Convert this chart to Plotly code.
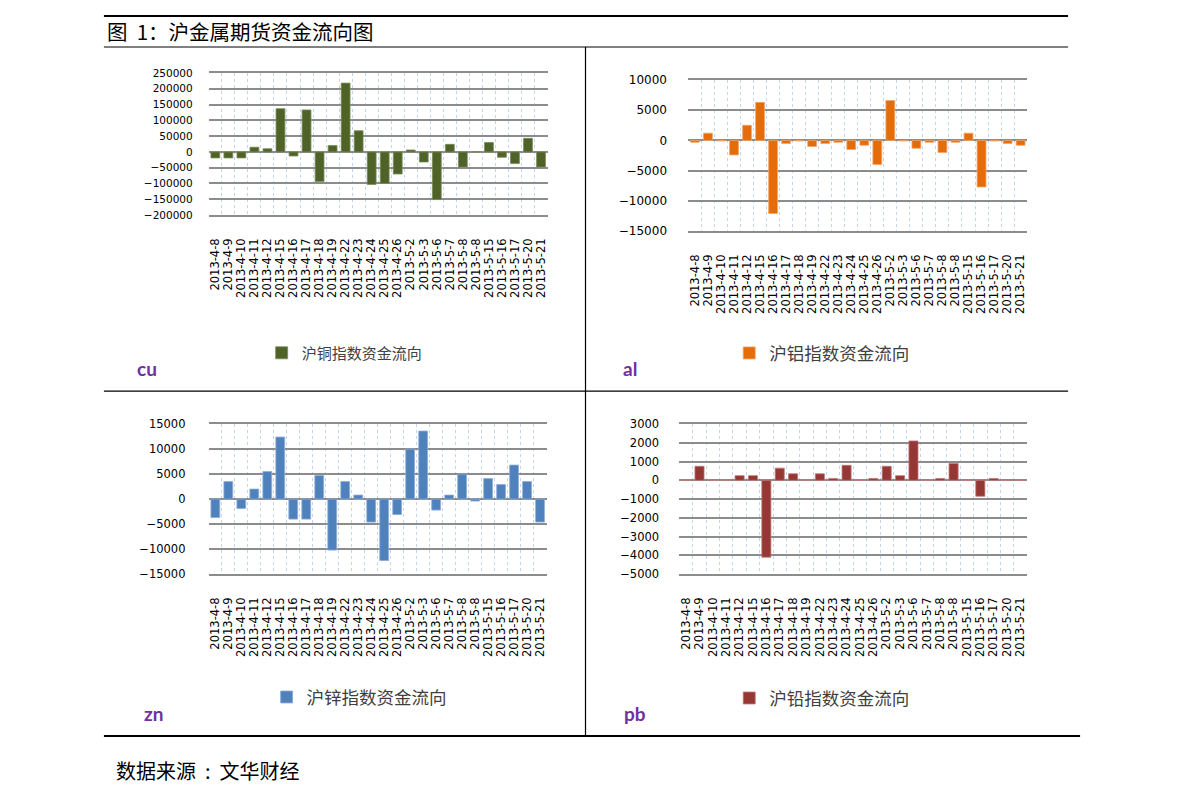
import plotly.graph_objects as go

# =========================================================================
# Data
# =========================================================================
dates = [
    "2013-4-8", "2013-4-9", "2013-4-10", "2013-4-11", "2013-4-12",
    "2013-4-15", "2013-4-16", "2013-4-17", "2013-4-18", "2013-4-19",
    "2013-4-22", "2013-4-23", "2013-4-24", "2013-4-25", "2013-4-26",
    "2013-5-2", "2013-5-3", "2013-5-6", "2013-5-7", "2013-5-8",
    "2013-5-8", "2013-5-15", "2013-5-16", "2013-5-17", "2013-5-20",
    "2013-5-21",
]

cu_flow = [
    -19000, -19000, -19000, 15000, 10000, 137000, -13000, 133000, -94000,
    20000, 218000, 67000, -103000, -100000, -70000, 6000, -32000, -151000,
    24000, -48000, 0, 30000, -17000, -37000, 43000, -48000,
]
al_flow = [
    -300, 1200, -100, -2400, 2500, 6300, -12100, -500, -100, -1000, -500,
    -300, -1500, -800, -4000, 6600, -100, -1300, -300, -2000, -300, 1200,
    -7700, -100, -500, -800,
]
zn_flow = [
    -3700, 3500, -1900, 2000, 5500, 12400, -4000, -4000, 4700, -10200, 3500,
    800, -4600, -12300, -3100, 10000, 13600, -2200, 800, 5000, -400, 4100,
    2900, 6800, 3500, -4600,
]
pb_flow = [
    0, 750, 0, 0, 250, 250, -4100, 650, 350, 0, 350, 100, 800, 0, 100, 750,
    250, 2100, 0, 100, 900, 0, -850, 100, 0, 0,
]

panel_names = ["cu", "al", "zn", "pb"]
legend_names = ["沪铜指数资金流向", "沪铝指数资金流向", "沪锌指数资金流向", "沪铅指数资金流向"]

# =========================================================================
# Page geometry (target pixels on the 1191 x 801 screenshot)
# =========================================================================
PAGE_MARGIN = 8
W, H = 1191 - 2 * PAGE_MARGIN, 801 - 2 * PAGE_MARGIN
Y_OFF, Y_SCALE = 15, 0.982  # how figure rows land on the screenshot


def fx(px):
    return (px - PAGE_MARGIN) / W


def fy(py):
    row = max((py - Y_OFF) / Y_SCALE, 1)
    return 1 - row / H


panels = [
    dict(values=cu_flow, color="#4F6228", edge="#7A8C55",
         xpx=(208, 547), ypx=(73, 215), rng=(-200000, 250000), dtick=50000,
         ysize=10.5, ylen=13, legend=(427, 353), lsize=15, label=(134, 368)),
    dict(values=al_flow, color="#E46C0A", edge="#F3A566",
         xpx=(688, 1027), ypx=(80, 231), rng=(-15000, 10000), dtick=5000,
         ysize=12, ylen=18, legend=(914, 353), lsize=17.5, label=(621, 368)),
    dict(values=zn_flow, color="#4F81BD", edge="#8EADD6",
         xpx=(208, 546), ypx=(424, 574), rng=(-15000, 15000), dtick=5000,
         ysize=11.5, ylen=20, legend=(451, 697), lsize=17.5, label=(141, 713)),
    dict(values=pb_flow, color="#953735", edge="#C07A78",
         xpx=(679, 1027), ypx=(424, 574), rng=(-5000, 3000), dtick=1000,
         ysize=11.5, ylen=17, legend=(914, 698), lsize=17.5, label=(622, 713)),
]

tick_font = "DejaVu Sans"
cjk_font = "Noto Sans CJK SC"
x_idx = list(range(len(dates)))

fig = go.Figure()
layout = {}
annotations = []

for i, (p, name, lname) in enumerate(zip(panels, panel_names, legend_names)):
    n = "" if i == 0 else str(i + 1)
    legend_key = "legend" + n

    fig.add_trace(
        go.Bar(
            x=x_idx,
            y=p["values"],
            name=lname,
            marker=dict(color=p["color"], line=dict(color=p["edge"], width=0.8)),
            xaxis="x" + n,
            yaxis="y" + n,
            legend=legend_key,
            hovertext=dates,
        )
    )

    layout["xaxis" + n] = dict(
        domain=[fx(p["xpx"][0]), fx(p["xpx"][1])],
        anchor="y" + n,
        range=[-0.5, len(dates) - 0.5],
        tickmode="array",
        tickvals=x_idx,
        ticktext=dates,
        tickangle=-90,
        tickfont=dict(family=tick_font, size=11.5, color="#000000"),
        ticks="outside",
        ticklen=17,
        tickcolor="rgba(0,0,0,0)",
        showgrid=False,
        zeroline=False,
        showline=True,
        mirror=True,
        linecolor="#8C8C8C",
        linewidth=1.5,
        minor=dict(
            tickmode="linear",
            tick0=-0.5,
            dtick=1,
            showgrid=True,
            gridcolor="#C3D4EE",
            griddash="dot",
            gridwidth=1,
            ticks="",
        ),
        fixedrange=True,
    )
    layout["yaxis" + n] = dict(
        domain=[fy(p["ypx"][1]), fy(p["ypx"][0])],
        anchor="x" + n,
        range=list(p["rng"]),
        tickmode="linear",
        tick0=p["rng"][0],
        dtick=p["dtick"],
        tickformat="d",
        tickfont=dict(family=tick_font, size=p["ysize"], color="#000000"),
        ticks="outside",
        ticklen=p["ylen"],
        tickcolor="rgba(0,0,0,0)",
        showgrid=True,
        gridcolor="#8C8C8C",
        gridwidth=1.5,
        zeroline=False,
        showline=False,
        fixedrange=True,
    )
    layout[legend_key] = dict(
        x=fx(p["legend"][0]),
        y=fy(p["legend"][1]),
        xanchor="right",
        yanchor="middle",
        orientation="h",
        bgcolor="rgba(0,0,0,0)",
        font=dict(family=cjk_font, size=p["lsize"], color="#404040"),
    )

    annotations.append(
        dict(
            text=f"<b>{name}</b>",
            x=fx(p["label"][0]),
            y=fy(p["label"][1]),
            xref="paper",
            yref="paper",
            xanchor="left",
            yanchor="middle",
            showarrow=False,
            font=dict(family="Lato", size=19, color="#7030A0"),
        )
    )

# Page title and source line
annotations.append(
    dict(
        text="图  1：沪金属期货资金流向图",
        x=fx(104), y=fy(31), xref="paper", yref="paper",
        xanchor="left", yanchor="middle", showarrow=False,
        font=dict(family=cjk_font, size=20.5, color="#000000"),
    )
)
annotations.append(
    dict(
        text="数据来源&nbsp;&nbsp;:&nbsp;&nbsp;文华财经",
        x=fx(113), y=fy(770), xref="paper", yref="paper",
        xanchor="left", yanchor="middle", showarrow=False,
        font=dict(family=cjk_font, size=20, color="#000000"),
    )
)

# Frame lines of the report box
frame = [
    ((103, 13), (1068, 13), 2),
    ((103, 47), (1068, 47), 1),
    ((103, 391), (1068, 391), 1.2),
    ((585, 47), (585, 736), 1.2),
    ((103, 736), (1080, 736), 2),
]
shapes = [
    dict(
        type="line", xref="paper", yref="paper",
        x0=fx(a[0]), y0=fy(a[1]), x1=fx(b[0]), y1=fy(b[1]),
        line=dict(color="#000000", width=w),
    )
    for a, b, w in frame
]

fig.update_layout(
    **layout,
    annotations=annotations,
    shapes=shapes,
    width=W,
    height=H,
    margin=dict(l=0, r=0, t=0, b=0),
    paper_bgcolor="#FFFFFF",
    plot_bgcolor="#FFFFFF",
    bargap=0.32,
    showlegend=True,
)

fig.write_html("out.html")
